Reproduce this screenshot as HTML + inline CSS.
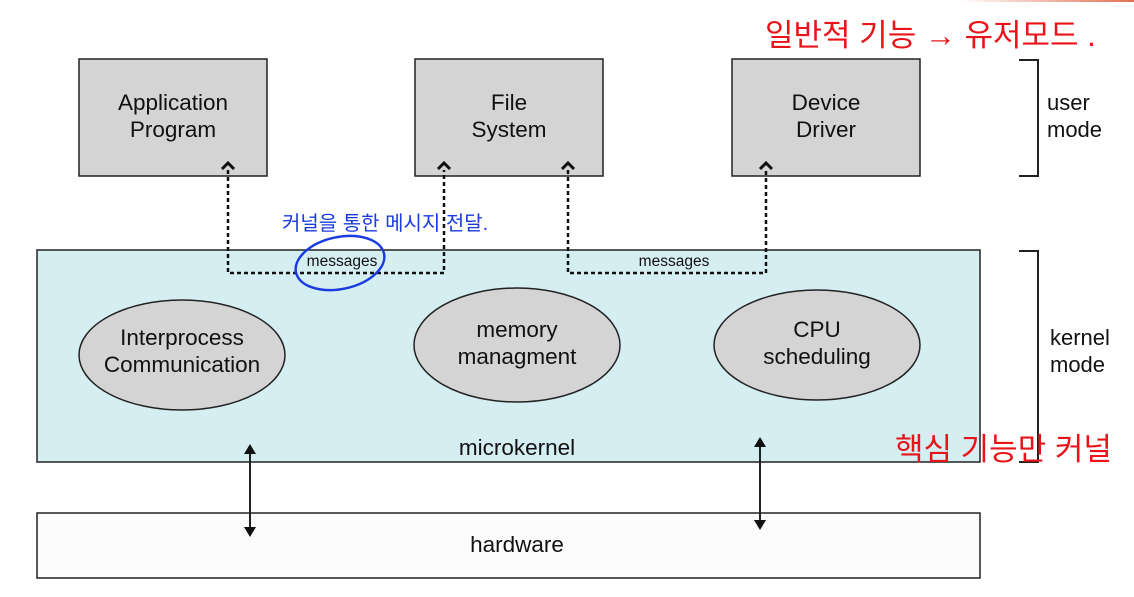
<!DOCTYPE html>
<html><head><meta charset="utf-8"><style>
body{margin:0;background:#fff;}
svg{display:block;}
text{font-family:"Liberation Sans",sans-serif;fill:#111;}
.h{font-family:"Liberation Sans","Noto Sans CJK KR",sans-serif;}
</style></head><body>
<svg width="1134" height="597" viewBox="0 0 1134 597" xmlns="http://www.w3.org/2000/svg">
<defs><linearGradient id="g" x1="0" x2="1"><stop offset="0" stop-color="#fff"/><stop offset="1" stop-color="#e07050"/></linearGradient></defs>
<rect x="960" y="0" width="174" height="2" fill="url(#g)"/>
<g fill="#d4d4d4" stroke="#222" stroke-width="1.5">
<rect x="79" y="59" width="188" height="117"/>
<rect x="415" y="59" width="188" height="117"/>
<rect x="732" y="59" width="188" height="117"/>
</g>
<g font-size="22.5" text-anchor="middle">
<text x="173" y="110">Application</text><text x="173" y="137">Program</text>
<text x="509" y="110">File</text><text x="509" y="137">System</text>
<text x="826" y="110">Device</text><text x="826" y="137">Driver</text>
</g>
<rect x="37" y="250" width="943" height="212" fill="#d5eef2" stroke="#222" stroke-width="1.5"/>
<rect x="37" y="513" width="943" height="65" fill="#fbfbfb" stroke="#222" stroke-width="1.5"/>
<g fill="#d4d4d4" stroke="#222" stroke-width="1.5">
<ellipse cx="182" cy="355" rx="103" ry="55"/>
<ellipse cx="517" cy="345" rx="103" ry="57"/>
<ellipse cx="817" cy="345" rx="103" ry="55"/>
</g>
<g font-size="22.5" text-anchor="middle">
<text x="182" y="345">Interprocess</text><text x="182" y="372">Communication</text>
<text x="517" y="337">memory</text><text x="517" y="364">managment</text>
<text x="817" y="337">CPU</text><text x="817" y="364">scheduling</text>
<text x="517" y="455">microkernel</text>
<text x="517" y="552">hardware</text>
</g>
<g font-size="15.5" text-anchor="middle">
<text x="342" y="266">messages</text>
<text x="674" y="266">messages</text>
</g>
<g fill="none" stroke="#111" stroke-width="2.5" stroke-dasharray="4,3">
<path d="M228 170 V273 H444 V170"/>
<path d="M568 170 V273 H766 V170"/>
</g>
<g fill="none" stroke="#111" stroke-width="3">
<path d="M222 169 L228 163 L234 169"/>
<path d="M438 169 L444 163 L450 169"/>
<path d="M562 169 L568 163 L574 169"/>
<path d="M760 169 L766 163 L772 169"/>
</g>
<g stroke="#222" stroke-width="2">
<line x1="250" y1="450" x2="250" y2="530"/>
<line x1="760" y1="443" x2="760" y2="523"/>
</g>
<g fill="#111">
<path d="M244 454 L250 444 L256 454Z"/><path d="M244 527 L250 537 L256 527Z"/>
<path d="M754 447 L760 437 L766 447Z"/><path d="M754 520 L760 530 L766 520Z"/>
</g>
<g fill="none" stroke="#222" stroke-width="2">
<path d="M1019 60 H1038 V176 H1019"/>
<path d="M1019 251 H1038 V462 H1019"/>
</g>
<g font-size="22">
<text x="1047" y="110">user</text><text x="1047" y="137">mode</text>
<text x="1050" y="345">kernel</text><text x="1050" y="372">mode</text>
</g>
<text class="h" x="765" y="46" font-size="31" style="fill:#e8141a">일반적 기능 → 유저모드 .</text>
<text class="h" x="282" y="230" font-size="20" style="fill:#1a3be0">커널을 통한 메시지 전달.</text>
<ellipse cx="340" cy="263" rx="45" ry="26" fill="none" stroke="#1a3be0" stroke-width="2.5" transform="rotate(-12 340 263)"/>
<text class="h" x="895" y="460" font-size="31" style="fill:#e8141a">핵심 기능만 커널</text>
</svg>
</body></html>
